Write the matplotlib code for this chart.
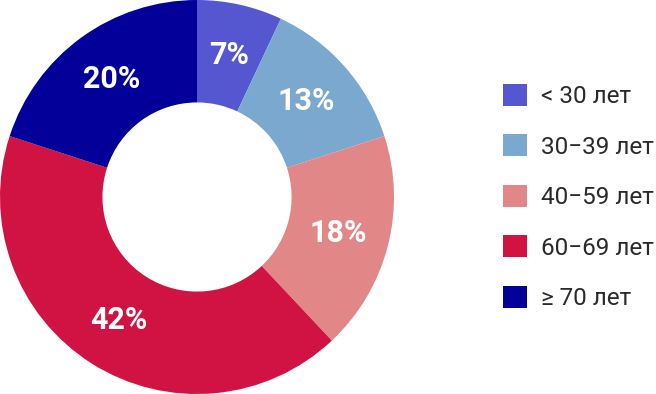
import matplotlib
matplotlib.use("Agg")
import matplotlib.pyplot as plt
from matplotlib.patches import Patch
import numpy as np

categories = ["< 30 лет", "30−39 лет", "40−59 лет", "60−69 лет", "≥ 70 лет"]
values = [7, 13, 18, 42, 20]
colors = ["#5457d0", "#7ba8cf", "#e18787", "#d01343", "#020099"]

plt.rcParams['font.family'] = ['Roboto', 'DejaVu Sans']

fig = plt.figure(figsize=(6.56, 3.94), dpi=100)
ax = fig.add_axes([0, 0, 394/656, 1])
wedges, texts = ax.pie(values, colors=colors, startangle=90, counterclock=False,
                       radius=1.0, wedgeprops=dict(width=0.52, linewidth=0))
tot = sum(values)
cum = 0
for v in values:
    mid = 90 - 360 * (cum + v / 2) / tot
    r = 0.74
    ax.text(r * np.cos(np.radians(mid)), r * np.sin(np.radians(mid)), f"{v}%",
            ha='center', va='center', color='white', fontsize=22, fontweight='bold')
    cum += v
ax.set_xlim(-1, 1)
ax.set_ylim(-1, 1)
ax.set_aspect('equal')
ax.axis('off')

handles = [Patch(facecolor=c, edgecolor='none') for c in colors]
leg = fig.legend(handles, categories, loc='center left', bbox_to_anchor=(503/656, 0.5),
                 frameon=False, fontsize=17.5, handlelength=1.0, handleheight=1.0,
                 handletextpad=0.58, labelspacing=1.08, borderaxespad=0, borderpad=0)
for t in leg.get_texts():
    t.set_color('#2a2a2a')

fig.savefig("out.png", dpi=100)
